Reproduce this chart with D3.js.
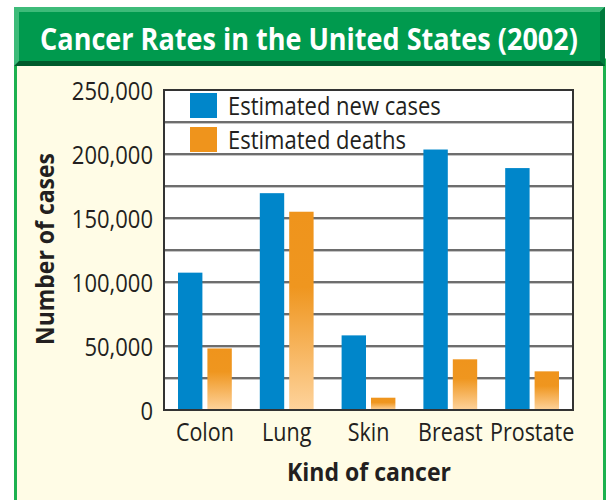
<!DOCTYPE html>
<html>
<head>
<meta charset="utf-8">
<script src="https://cdn.jsdelivr.net/npm/d3@7"></script>
<style>
  body { margin: 0; background: #fff; }
  svg { display: block; font-family: "Open Sans", sans-serif; }
</style>
</head>
<body>
<div id="chart"></div>
<script>
"use strict";

var categories = ['Colon', 'Lung', 'Skin', 'Breast', 'Prostate'];
var seriesNames = ['Estimated new cases', 'Estimated deaths'];
var newCases = [107300, 169400, 58300, 203500, 189000];
var deaths = [48100, 154900, 9600, 39600, 30200];
var yTicks = [0, 50000, 100000, 150000, 200000, 250000];
var gridTicks = [25000, 50000, 75000, 100000, 125000, 150000, 175000, 200000, 225000];

var W = 610, H = 500;
var margin = {top: 90, right: 37, bottom: 90, left: 164};
var width = W - margin.left - margin.right;
var height = H - margin.top - margin.bottom;

// squeeze text horizontally so it reads like a condensed face
function condense(sel, factor) {
    sel.each(function () {
        var len = this.getComputedTextLength();
        d3.select(this)
            .attr('textLength', len * factor)
            .attr('lengthAdjust', 'spacingAndGlyphs');
    });
}

var svg = d3.select('#chart').append('svg')
    .attr('width', W)
    .attr('height', H);

var defs = svg.append('defs');

// blue fades towards the bottom of the plot
var blueGrad = defs.append('linearGradient')
    .attr('id', 'blueGrad')
    .attr('gradientUnits', 'userSpaceOnUse')
    .attr('x1', 0).attr('x2', 0)
    .attr('y1', margin.top + height - 62).attr('y2', margin.top + height);
blueGrad.append('stop').attr('offset', 0).attr('stop-color', '#0086ca');
blueGrad.append('stop').attr('offset', 1).attr('stop-color', '#a6caee');

var orangeGrad = defs.append('linearGradient')
    .attr('id', 'orangeGrad')
    .attr('x1', 0).attr('x2', 0).attr('y1', 0).attr('y2', 1);
orangeGrad.append('stop').attr('offset', 0).attr('stop-color', '#ef941c');
orangeGrad.append('stop').attr('offset', 0.38).attr('stop-color', '#ef961f');
orangeGrad.append('stop').attr('offset', 1).attr('stop-color', '#fed39c');

// frame: cream body with green border, green bevelled header
svg.append('rect')
    .attr('x', 15.5).attr('y', 60)
    .attr('width', 589).attr('height', 450)
    .attr('fill', '#fffce6')
    .attr('stroke', '#1db14f')
    .attr('stroke-width', 3);

svg.append('rect')
    .attr('x', 14).attr('y', 7)
    .attr('width', 591).attr('height', 59)
    .attr('fill', '#005b2c');
svg.append('polygon')
    .attr('points', '14,7 605,7 600,12 19,12 19,61 14,66')
    .attr('fill', '#3dbb79');
svg.append('polygon')
    .attr('points', '605,7 605,66 600,61 600,12')
    .attr('fill', '#007a3c');
svg.append('rect')
    .attr('x', 19).attr('y', 12)
    .attr('width', 581).attr('height', 49)
    .attr('fill', '#009a4e');

// title is squeezed with a transform so its box really fits the header
var title = svg.append('g')
    .attr('transform', 'translate(309,50)');
var titleText = title.append('text')
    .attr('text-anchor', 'middle')
    .attr('fill', '#fff')
    .attr('font-weight', 'bold')
    .attr('font-size', 30)
    .text('Cancer Rates in the United States (2002)');
var titleLen = titleText.node().getComputedTextLength();
titleText.attr('transform', 'scale(' + (538 / titleLen) + ',1)');

var g = svg.append('g')
    .attr('transform', 'translate(' + margin.left + ',' + margin.top + ')');

var x0 = d3.scaleBand()
    .domain(categories)
    .range([0, width]);

var x1 = d3.scaleBand()
    .domain(seriesNames)
    .range([14, x0.bandwidth() - 14])
    .paddingInner(0.17);

var y = d3.scaleLinear()
    .domain([0, 250000])
    .range([height, 0]);

g.append('rect')
    .attr('width', width)
    .attr('height', height)
    .attr('fill', '#fff');

// gridlines with a light shadow line under each
g.selectAll('.grid-shadow')
    .data(gridTicks)
    .enter().append('line')
    .attr('class', 'grid-shadow')
    .attr('x1', 0).attr('x2', width)
    .attr('y1', function (d) { return y(d) + 1.5; })
    .attr('y2', function (d) { return y(d) + 1.5; })
    .attr('stroke', '#c4c4c4')
    .attr('stroke-width', 1);

g.selectAll('.grid')
    .data(gridTicks)
    .enter().append('line')
    .attr('class', 'grid')
    .attr('x1', 0).attr('x2', width)
    .attr('y1', function (d) { return y(d); })
    .attr('y2', function (d) { return y(d); })
    .attr('stroke', '#3c3c3c')
    .attr('stroke-width', 1.5);

var rows = categories.map(function (c, i) {
    return {cat: c, values: [newCases[i], deaths[i]]};
});

var groups = g.selectAll('.group')
    .data(rows)
    .enter().append('g')
    .attr('class', 'group')
    .attr('transform', function (d) { return 'translate(' + x0(d.cat) + ',0)'; });

groups.selectAll('rect')
    .data(function (d) {
        return d.values.map(function (v, i) { return {key: seriesNames[i], value: v, i: i}; });
    })
    .enter().append('rect')
    .attr('x', function (d) { return x1(d.key); })
    .attr('y', function (d) { return y(d.value); })
    .attr('width', x1.bandwidth())
    .attr('height', function (d) { return height - y(d.value); })
    .attr('fill', function (d) { return d.i === 0 ? 'url(#blueGrad)' : 'url(#orangeGrad)'; });

// plot border
g.append('rect')
    .attr('width', width)
    .attr('height', height)
    .attr('fill', 'none')
    .attr('stroke', '#333')
    .attr('stroke-width', 2);

// legend
var legend = g.selectAll('.legend')
    .data(seriesNames)
    .enter().append('g')
    .attr('class', 'legend')
    .attr('transform', function (d, i) { return 'translate(26,' + (3 + i * 34) + ')'; });

legend.append('rect')
    .attr('width', 27)
    .attr('height', 25)
    .attr('fill', function (d, i) { return i === 0 ? '#0086ca' : '#ef941c'; });

legend.append('text')
    .attr('x', 38)
    .attr('y', 22)
    .attr('font-size', 25)
    .attr('fill', '#231f20')
    .text(function (d) { return d; })
    .call(condense, 0.88);

// axes
var yAxis = d3.axisLeft(y)
    .tickValues(yTicks)
    .tickSize(0)
    .tickPadding(11)
    .tickFormat(d3.format(','));

g.append('g')
    .attr('class', 'axis axis--y')
    .call(yAxis)
    .call(function (s) { s.select('.domain').remove(); })
    .selectAll('text')
    .attr('font-size', 25)
    .attr('font-family', '"Open Sans", sans-serif')
    .attr('fill', '#231f20')
    .attr('dy', '0.36em')
    .call(condense, 0.88);

var xAxis = d3.axisBottom(x0)
    .tickSize(0)
    .tickPadding(13);

g.append('g')
    .attr('class', 'axis axis--x')
    .attr('transform', 'translate(0,' + height + ')')
    .call(xAxis)
    .call(function (s) { s.select('.domain').remove(); })
    .selectAll('text')
    .attr('font-size', 25)
    .attr('font-family', '"Open Sans", sans-serif')
    .attr('fill', '#231f20')
    .call(condense, 0.86);

svg.append('text')
    .attr('transform', 'translate(54,249) rotate(-90)')
    .attr('text-anchor', 'middle')
    .attr('font-weight', 'bold')
    .attr('font-size', 25)
    .attr('fill', '#231f20')
    .attr('textLength', 192)
    .attr('lengthAdjust', 'spacingAndGlyphs')
    .text('Number of cases');

svg.append('text')
    .attr('x', 369)
    .attr('y', 481)
    .attr('text-anchor', 'middle')
    .attr('font-weight', 'bold')
    .attr('font-size', 25)
    .attr('fill', '#231f20')
    .attr('textLength', 164)
    .attr('lengthAdjust', 'spacingAndGlyphs')
    .text('Kind of cancer');
</script>
</body>
</html>
